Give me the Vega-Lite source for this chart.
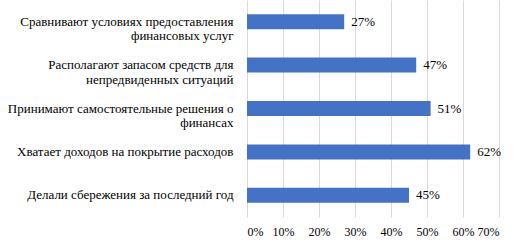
{
  "$schema": "https://vega.github.io/schema/vega-lite/v6.json",
  "width": 252,
  "height": 217,
  "autosize": {"type": "none"},
  "padding": {"left": 247, "top": 0, "right": 23, "bottom": 31},
  "background": "white",
  "config": {"view": {"stroke": null}, "font": "Liberation Serif"},
  "data": {
    "values": [
      {"label": "Сравнивают условиях предоставления|финансовых услуг", "value": 0.27},
      {"label": "Располагают запасом средств для|непредвиденных ситуаций", "value": 0.47},
      {"label": "Принимают самостоятельные решения о|финансах", "value": 0.51},
      {"label": "Хватает доходов на покрытие расходов", "value": 0.62},
      {"label": "Делали сбережения за последний год", "value": 0.45}
    ]
  },
  "encoding": {
    "y": {
      "field": "label",
      "type": "nominal",
      "sort": null,
      "scale": {"paddingInner": 0, "paddingOuter": 0},
      "axis": {
        "title": null,
        "labelExpr": "split(datum.label, '|')",
        "ticks": false,
        "domain": false,
        "labelFontSize": 13,
        "labelColor": "#000000",
        "labelPadding": 14,
        "labelLineHeight": 14.5,
        "labelLimit": 260,
        "labelFont": "Liberation Serif"
      }
    },
    "x": {
      "field": "value",
      "type": "quantitative",
      "scale": {"domain": [0, 0.7], "nice": false},
      "axis": {
        "title": null,
        "format": ".0%",
        "values": [0, 0.1, 0.2, 0.3, 0.4, 0.5, 0.6, 0.7],
        "grid": true,
        "gridColor": "#d9d9d9",
        "domain": false,
        "ticks": false,
        "labelPadding": 9,
        "labelFontSize": 12,
        "labelColor": "#000000",
        "labelOverlap": false,
        "labelFont": "Liberation Serif"
      }
    }
  },
  "layer": [
    {"mark": {"type": "bar", "size": 15, "color": "#4472C4"}},
    {
      "mark": {"type": "text", "align": "left", "baseline": "middle", "dx": 7, "fontSize": 13, "font": "Liberation Serif", "color": "#000000"},
      "encoding": {"text": {"field": "value", "type": "quantitative", "format": ".0%"}}
    }
  ]
}
